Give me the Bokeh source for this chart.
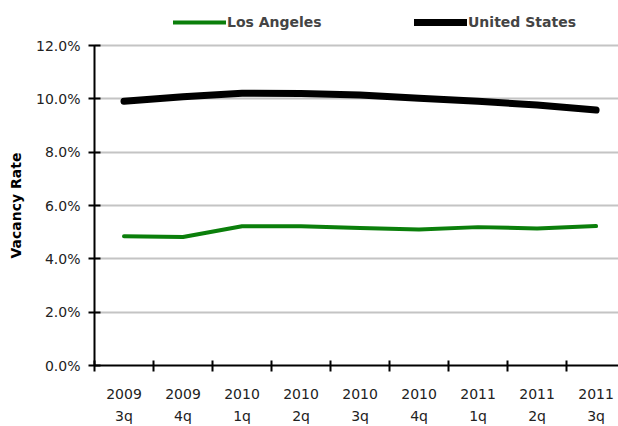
from bokeh.plotting import figure
from bokeh.models import (Range1d, FixedTicker, PrintfTickFormatter, Legend, LegendItem,
                          LinearAxis, Title)
from bokeh.embed import file_html
from bokeh.resources import INLINE

# Quarterly vacancy rates (%)
years = ["2009", "2009", "2010", "2010", "2010", "2010", "2011", "2011", "2011"]
quarters = ["3q", "4q", "1q", "2q", "3q", "4q", "1q", "2q", "3q"]
los_angeles = [4.85, 4.82, 5.22, 5.22, 5.16, 5.10, 5.19, 5.14, 5.23]
united_states = [9.91, 10.08, 10.21, 10.20, 10.15, 10.02, 9.91, 9.77, 9.58]
y_ticks = [0, 2, 4, 6, 8, 10, 12]

FONT = "DejaVu Sans"
TEXT = "#222222"
n = len(years)
centers = [i + 0.5 for i in range(n)]
boundaries = list(range(n + 1))

# the frame reaches the top of the canvas so the legend can sit above the 12% line
p = figure(width=618, height=426, output_backend="svg", toolbar_location=None,
           x_range=Range1d(0, 8.88), y_range=Range1d(0, 13.69),
           min_border_left=94, min_border_right=0, min_border_top=0, min_border_bottom=0)
p.outline_line_color = None
p.background_fill_color = "white"
p.border_fill_color = "white"

# horizontal gridlines only
p.xgrid.grid_line_color = None
p.ygrid.grid_line_color = "#c4c4c4"
p.ygrid.grid_line_width = 2
p.ygrid.ticker = FixedTicker(ticks=y_ticks)

# y axis, drawn only over 0-12%
ya = p.yaxis[0]
ya.ticker = FixedTicker(ticks=y_ticks)
ya.bounds = (0, 12)
ya.formatter = PrintfTickFormatter(format="%.1f%%")
ya.axis_line_width = 2
ya.major_tick_line_width = 2
ya.major_tick_in = 6
ya.major_tick_out = 6
ya.minor_tick_line_color = None
ya.major_label_standoff = 8
ya.major_label_text_font = FONT
ya.major_label_text_font_size = "14px"
ya.major_label_text_color = TEXT

# y axis title, centred on the 0-12% span rather than on the whole frame
p.add_layout(Title(text="Vacancy Rate", align="left", offset=107, vertical_align="top",
                   standoff=15, text_font=FONT, text_font_size="14px",
                   text_font_style="bold", text_color="black"), "left")

# x axis: tick marks on category boundaries, year labels at category centres
year_labels = {c: y for c, y in zip(centers, years)}
quarter_labels = {c: q for c, q in zip(centers, quarters)}

xa = p.xaxis[0]
xa.ticker = FixedTicker(ticks=centers, minor_ticks=boundaries)
xa.major_label_overrides = year_labels
xa.axis_line_width = 2
xa.major_tick_in = 0
xa.major_tick_out = 0
xa.major_tick_line_color = None
xa.minor_tick_line_width = 2
xa.minor_tick_line_color = "black"
xa.minor_tick_in = 5
xa.minor_tick_out = 6
xa.major_label_standoff = 17
xa.major_label_text_font = FONT
xa.major_label_text_font_size = "14px"
xa.major_label_text_color = TEXT

# second row of category labels (quarter)
qa = LinearAxis(ticker=FixedTicker(ticks=centers), major_label_overrides=quarter_labels,
                axis_line_color=None, major_tick_line_color=None, minor_tick_line_color=None,
                major_tick_in=0, major_tick_out=0, major_label_standoff=6,
                major_label_text_font=FONT, major_label_text_font_size="14px",
                major_label_text_color=TEXT)
p.add_layout(qa, "below")

la = p.line(centers, los_angeles, line_color="#0b7f0b", line_width=4,
            line_join="round", line_cap="round")
us = p.line(centers, united_states, line_color="black", line_width=7,
            line_join="round", line_cap="round")

legend = Legend(items=[LegendItem(label="Los Angeles", renderers=[la]),
                       LegendItem(label="United States", renderers=[us])],
                location=(79, 335), orientation="horizontal",
                glyph_width=53, glyph_height=16, label_height=16, label_width=187,
                label_standoff=1, spacing=0, padding=0, margin=0,
                border_line_color=None, background_fill_alpha=0,
                label_text_font=FONT, label_text_font_style="bold",
                label_text_font_size="14px", label_text_baseline="middle")
p.add_layout(legend, "center")

open("out.html", "w").write(file_html(p, INLINE))
